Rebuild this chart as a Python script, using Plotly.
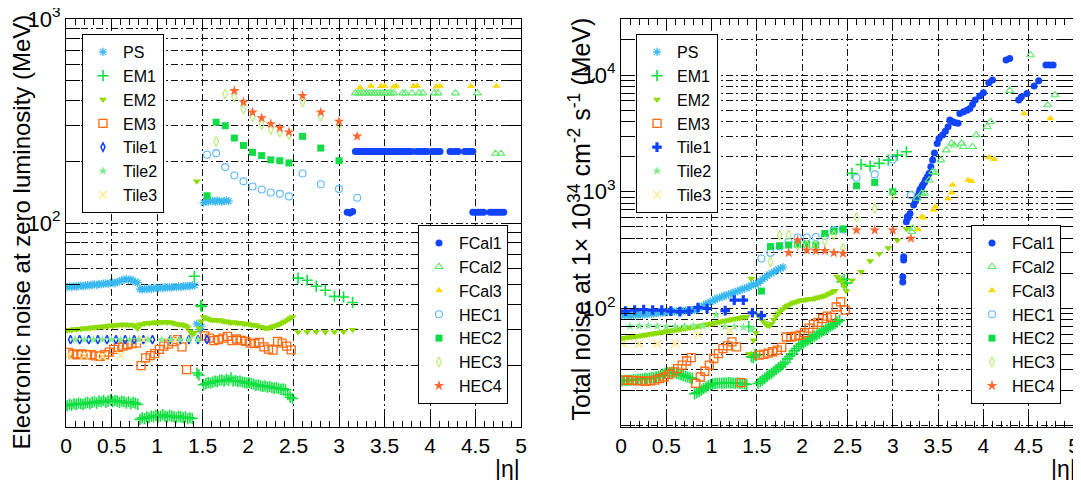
import numpy as np
import plotly.graph_objects as go

FONT = "Liberation Sans"

# ---------------- eta bin centres ----------------
eta_fine = np.round(0.0125 + 0.025 * np.arange(56), 4)      # 0.0125 .. 1.3875
eta_crack = [1.4125, 1.4375, 1.4625, 1.4875]
eta_ps_ec = np.round(1.5125 + 0.025 * np.arange(12), 4)     # 1.5125 .. 1.7875
eta_em_ec = np.round(1.5125 + 0.025 * np.arange(40), 4)     # 1.5125 .. 2.4875
eta_em3_b = np.round(0.025 + 0.05 * np.arange(27), 3)       # 0.025 .. 1.325
eta_em3_ec = np.round(1.525 + 0.05 * np.arange(20), 3)      # 1.525 .. 2.475
eta_iw = [2.55, 2.65, 2.75, 2.85, 2.95, 3.05, 3.15]
eta_em1_crack = [1.41, 1.44, 1.46, 1.48, 1.49]
eta_tile1 = [0.05, 0.15, 0.25, 0.35, 0.45, 0.55, 0.65, 0.75, 0.85, 0.95, 1.15, 1.25, 1.35, 1.45, 1.55]
eta_tile2 = [0.1, 0.2, 0.3, 0.4, 0.5, 0.6, 0.7, 0.8, 0.9, 1.05, 1.15, 1.25, 1.35, 1.45]
eta_tile3 = [0.02, 0.2, 0.4, 0.6, 0.85, 1.2]
eta_hec1 = [1.55, 1.65, 1.75, 1.85, 1.95, 2.05, 2.15, 2.25, 2.35, 2.45, 2.6, 2.8, 3.0, 3.2]
eta_hec2 = [1.55, 1.65, 1.75, 1.85, 1.95, 2.05, 2.15, 2.25, 2.35, 2.45, 2.6, 2.8, 3.0]
eta_hec3 = [1.65, 1.75, 1.85, 1.95, 2.05, 2.15, 2.25, 2.35, 2.45, 2.6, 2.8, 3.0]
eta_hec4 = [1.85, 1.95, 2.05, 2.15, 2.25, 2.35, 2.45, 2.6, 2.8, 3.0, 3.2]

# ---------------- LEFT: electronic noise at zero luminosity (MeV) ----------------
ps_b_L = [48.5, 48.8, 48.6, 49.0, 48.7, 49.1, 49.3, 49.0, 49.4, 49.6,
          49.3, 49.8, 50.0, 49.7, 50.2, 50.0, 50.4, 50.6, 50.3, 50.8,
          51.0, 50.7, 51.3, 51.8, 52.3, 52.8, 53.2, 52.6, 52.9, 52.0,
          51.5, 51.0,
          47.4, 47.2, 47.6, 47.3, 47.8, 47.5, 47.9, 48.1, 47.8, 48.2,
          48.0, 48.4, 48.2, 48.5, 48.3, 48.7, 48.5, 48.9, 48.6, 49.0,
          48.8, 49.2, 49.0, 49.4]
ps_c_L = [49.5, 32.0, 30.0, 31.0]
ps_ec_L = [126, 128, 127, 129, 128, 127, 129, 128, 127, 128, 129, 128]

em1_b_L = [12.7, 12.9, 12.8, 13.0, 12.9, 13.1, 13.0, 12.9, 13.1, 13.2,
           13.0, 13.2, 13.3, 13.1, 13.4, 13.3, 13.5, 13.2, 13.4, 13.6,
           13.3, 13.5, 13.4, 13.2, 13.4, 13.3, 13.1, 13.3, 13.0, 13.2,
           13.1, 12.9,
           10.9, 11.1, 11.0, 11.2, 11.1, 11.3, 11.2, 11.4, 11.2, 11.3,
           11.5, 11.3, 11.2, 11.4, 11.3, 11.2, 11.1, 11.3, 11.2, 11.1,
           11.2, 11.0, 11.1, 11.0]
em1_c_L = [54.8, 18.4, 18.0, 39.4, 39.0]
em1_ec_L = [16.1, 16.3, 16.5, 16.4, 16.6, 16.8, 16.7, 16.9, 17.0, 16.8,
            17.1, 16.9, 17.4, 16.8, 16.9, 16.7, 16.8, 16.6, 16.5, 16.4,
            16.5, 16.3, 16.2, 16.0, 16.1, 15.9, 15.8, 15.9, 15.7, 15.8,
            15.6, 15.5, 15.6, 15.4, 15.3, 15.4, 15.2, 14.4, 14.0, 13.8]
em1_iw_L = [53.7, 52.4, 49.0, 46.8, 43.7, 43.4, 40.8]

em2_b_L = [29.8, 30.0, 29.9, 30.2, 30.1, 30.3, 30.2, 30.5, 30.4, 30.6,
           30.5, 30.8, 30.7, 31.0, 30.9, 31.2, 31.0, 31.3, 31.2, 31.5,
           31.3, 31.6, 31.5, 31.8, 31.6, 31.9, 31.7, 31.6, 31.8, 31.5,
           31.2, 30.4,
           31.8, 32.0, 32.2, 32.4, 32.3, 32.5, 32.4, 32.6, 32.5, 32.7,
           32.6, 32.8, 32.5, 32.7, 32.4, 32.2, 32.0, 31.8, 31.9, 31.6,
           31.4, 30.8, 29.5, 28.4]
em2_c_L = [29.0, 160, 30.5, 33.0]
em2_ec_L = [34.6, 34.2, 33.8, 33.6, 33.4, 33.6, 33.3, 33.5, 33.1, 32.9,
            33.0, 32.6, 32.4, 32.7, 32.5, 32.3, 32.4, 32.2, 32.0, 32.2,
            31.9, 31.7, 31.5, 31.6, 31.2, 31.0, 30.8, 30.6, 30.5, 30.7,
            31.0, 31.3, 31.5, 31.8, 32.2, 32.6, 33.0, 33.6, 34.1, 34.6]
em2_iw_L = [29.2, 29.2, 29.3, 29.2, 29.2, 29.3, 30.0]

em3_b_L = [23.2, 22.8, 22.6, 22.8, 22.6, 22.6, 22.3, 22.2, 22.6, 23.3,
           24.0, 24.6, 24.9, 25.3, 25.6, 25.8, 20.0, 21.8, 22.4, 22.9,
           24.0, 24.9, 25.5, 26.2, 26.8, 24.7, 19.1]
em3_ec_L = [28.0, 27.3, 26.5, 26.8, 27.3, 27.8, 26.5, 27.0, 26.6, 26.3,
            25.8, 25.6, 26.0, 24.7, 24.1, 23.8, 26.3, 25.8, 24.9, 23.9]

tile1_L = [26.8, 26.8, 26.8, 26.8, 26.8, 26.8, 26.8, 26.8, 26.8, 26.8, 26.8, 26.8, 26.8, 26.8, 26.8]
tile2_L = [26.8, 26.8, 26.8, 26.8, 26.8, 26.8, 26.8, 26.8, 26.8, 26.8, 26.8, 26.8, 26.8, 26.8]
tile3_L = [22.4, 22.4, 22.2, 22.4, 26.8, 26.8]

fcal1_eta_L = [3.09, 3.12, 3.15,
               3.18, 3.20, 3.22, 3.24, 3.26, 3.28, 3.30, 3.32, 3.34, 3.36, 3.38, 3.40,
               3.42, 3.44, 3.46, 3.48, 3.50, 3.52, 3.54, 3.56, 3.58, 3.60, 3.62, 3.64,
               3.66, 3.68, 3.70, 3.72, 3.74, 3.76, 3.78, 3.80,
               3.85, 3.88, 3.91, 3.94, 3.97, 4.02, 4.05, 4.08, 4.11,
               4.22, 4.25, 4.28, 4.31, 4.38, 4.41, 4.44, 4.47,
               4.47, 4.50, 4.53, 4.56, 4.59, 4.66, 4.69, 4.72, 4.75, 4.78, 4.81]
fcal1_L = [113, 112, 114,
           224, 224, 224, 224, 224, 224, 224, 224, 224, 224, 224, 224,
           224, 224, 224, 224, 224, 224, 224, 224, 224, 224, 224, 224,
           224, 224, 224, 224, 224, 224, 224, 224,
           224, 224, 224, 224, 224, 224, 224, 224, 224,
           224, 224, 224, 224, 224, 224, 224, 224,
           113, 113, 113, 113, 113, 113, 113, 113, 113, 113, 113]
fcal2_eta_L = [3.18, 3.21, 3.24, 3.27, 3.30, 3.33, 3.36, 3.39, 3.42, 3.45, 3.48, 3.51,
               3.54, 3.57, 3.60, 3.70, 3.73, 3.80, 3.88, 3.92, 4.05, 4.09, 4.28, 4.52,
               4.72, 4.78]
fcal2_L = [433, 433, 433, 433, 433, 433, 433, 433, 433, 433, 433, 433,
           433, 433, 433, 433, 433, 433, 433, 433, 433, 433, 433, 433,
           219, 219]
fcal3_eta_L = [3.23, 3.35, 3.46, 3.50, 3.60, 3.63, 3.82, 3.86, 4.07, 4.11, 4.45, 4.73]
fcal3_L = [462, 470, 468, 470, 466, 470, 468, 470, 466, 470, 468, 470]

hec1_L = [216, 220, 188, 171, 160, 151, 146, 141, 139, 135, 175, 155, 147, 133]
hec2_L = [136, 312, 300, 261, 240, 222, 214, 204, 202, 197, 266, 233, 202]
hec3_L = [251, 429, 415, 362, 331, 304, 287, 279, 271, 391, 334, 304]
hec4_L = [445, 391, 349, 327, 306, 292, 279, 421, 349, 315, 266]

# ---------------- RIGHT: total noise at 1e34 (MeV) ----------------
ps_b_R = [87, 87.3, 87.6, 87.4, 88, 88.3, 88.1, 88.7, 89, 88.8,
          89.4, 89.8, 90.3, 90.1, 90.8, 91.3, 91.9, 92.3, 92.0, 92.8,
          93.3, 93.8, 94.2, 94.0, 94.6, 95.0, 95.5, 95.3, 95.9, 96.4,
          96.2, 96.8,
          97.5, 99, 101, 103.5, 106, 108.5, 111, 114, 117, 119.5,
          122, 124, 126, 128, 130, 132, 134, 136, 138.5, 141,
          143.5, 146, 148.5, 151]
ps_c_R = [153, 158, 162, 160]
ps_ec_R = [165, 172, 178, 184, 190, 196, 201, 206, 211, 216, 221, 226]

em1_b_R = [24.0, 24.2, 24.1, 24.4, 24.3, 24.6, 24.5, 24.8, 24.7, 25.0,
           25.2, 25.0, 25.4, 25.7, 25.5, 26.0, 26.4, 26.8, 27.3, 27.8,
           28.3, 28.0, 28.5, 28.2, 27.8, 27.4, 27.0, 26.6, 26.2, 25.8,
           25.5, 25.2,
           18.6, 19.0, 19.5, 20.0, 20.6, 21.2, 21.8, 22.3, 22.6, 22.8,
           22.9, 23.0, 22.9, 23.1, 23.0, 23.2, 23.1, 23.0, 22.9, 23.1,
           22.8, 22.9, 22.6, 22.4]
em1_c_R = [70, 38.5, 38.0, 40.5, 39.5]
em1_ec_R = [22.8, 23.6, 24.4, 25.3, 26.2, 27.1, 28.0, 29.0, 30.0, 31.0,
            32.1, 33.3, 34.5, 37, 39, 41, 43.5, 45.5, 47.5, 49.5,
            50.5, 52, 53.5, 55, 56.5, 58, 59.5, 61.2, 63, 64.8,
            66.6, 68.5, 70.5, 72.5, 74.6, 76.8, 79.4, 170, 178, 165]
em1_iw_R = [1437, 1714, 1660, 1750, 1866, 2060, 2200]

em2_b_R = [55.5, 56.1, 56.2, 56.9, 57.0, 57.6, 57.7, 58.4, 58.5, 59.1,
           59.3, 60.0, 60.2, 60.9, 61.1, 61.7, 61.9, 62.6, 62.9, 63.5,
           63.8, 64.5, 64.8, 65.4, 65.7, 66.4, 66.7, 67.3, 67.6, 68.3,
           68.5, 69.1,
           69.6, 70.4, 70.8, 71.6, 72.0, 72.9, 73.4, 74.2, 74.7, 75.6,
           76.1, 77.0, 77.5, 78.4, 78.9, 79.8, 80.3, 81.2, 81.7, 82.6,
           83.1, 84.0, 84.2, 84.8]
em2_c_R = [41, 181, 53.6, 62]
em2_ec_R = [88, 84, 79, 75, 72, 71, 74, 80, 86, 91,
            95, 99, 103, 106, 108, 111, 113, 114, 116, 118,
            118, 119, 120, 121, 121, 122, 124, 125, 127, 128,
            130, 133, 136, 139, 142, 187, 178, 169, 155, 141]
em2_iw_R = [175, 206, 255, 295, 330, 385, 480]

em3_b_R = [24.3, 24.3, 24.2, 24.0, 24.0, 23.8, 24.0, 24.4, 25.1, 25.9,
           27.2, 28.7, 30.6, 32.8, 35.5, 38.0, 22.8, 25.9, 29.0, 32.7,
           37.3, 41.1, 45.4, 47.9, 51.8, 46.9, 23.2]
em3_ec_R = [39.8, 40.4, 41.4, 42.6, 44.0, 46.5, 57.0, 57.0, 58.0, 59.0,
            62.0, 68.0, 73.0, 76.0, 82.0, 86.0, 84.0, 103, 114, 97]

tile1_R = [95, 97, 98, 97, 97, 95, 94, 95, 102, 100, 96, 118, 118, 92, 87]
tile2_R = [70.5, 70.8, 71.2, 70.5, 70.0, 70.2, 70.6, 71.0, 70.5, 88, 70, 70, 69, 66]
tile3_R = [50, 50, 50, 50, 60, 65]

fcal1_eta_R = [3.11, 3.11, 3.12, 3.12, 3.15, 3.16, 3.17, 3.19, 3.23, 3.25, 3.27, 3.29,
               3.30, 3.32, 3.33, 3.35, 3.36, 3.38, 3.40, 3.42, 3.44, 3.46, 3.49, 3.51,
               3.55, 3.58, 3.61, 3.63, 3.66, 3.69, 3.72, 3.74, 3.78, 3.82, 3.85, 3.88,
               3.91, 3.96, 4.00, 4.06, 4.10, 4.25, 4.29, 4.39, 4.42, 4.48, 4.56, 4.61,
               4.69, 4.73, 4.77]
fcal1_R = [187, 169, 260, 277, 553, 611, 600, 650, 769, 830, 906, 980,
           1047, 1100, 1141, 1200, 1259, 1340, 1437, 1637, 1868, 2150, 2596, 2866,
           3060, 3300, 3608, 4115, 3981, 3900, 3855, 4694, 4852, 5000, 5180, 5600,
           6107, 6600, 7063, 8590, 9060, 13440, 13890, 6107, 6520, 6960, 8050, 8940,
           12180, 12180, 12180]
fcal2_eta_R = [3.21, 3.22, 3.27, 3.32, 3.35, 3.40, 3.44, 3.47, 3.53, 3.59, 3.65, 3.68,
               3.76, 3.78, 3.88, 3.92, 4.04, 4.08, 4.29, 4.52, 4.71, 4.79]
fcal2_R = [454, 485, 877, 968, 968, 1259, 1484, 1455, 1868, 2276, 2596, 2500,
           2596, 2432, 2432, 3060, 3608, 3981, 7350, 14840, 5530, 6740]
fcal3_eta_R = [3.28, 3.32, 3.34, 3.45, 3.47, 3.61, 3.65, 3.66, 3.83, 3.87, 4.06, 4.12, 4.45, 4.74]
fcal3_R = [475, 611, 600, 697, 744, 877, 980, 1141, 1259, 1230, 1968, 1900, 4694, 4252]

hec1_R = [268, 300, 340, 373, 406, 406, 410, 420, 469, 475, 1318, 1409, 1892, 936]
hec2_R = [141, 340, 345, 350, 355, 355, 350, 439, 460, 480, 1125, 1202, 1000]
hec3_R = [251, 425, 425, 349, 349, 345, 380, 425, 327, 603, 720, 936]
hec4_R = [300, 385, 316, 312, 312, 300, 296, 469, 469, 469, 398]

# ---------------- styles ----------------
STY = {
    "PS":    dict(color="#38b8f0", symbol="asterisk-open", size=7, lw=1.2),
    "EM1":   dict(color="#10e040", symbol="cross-thin-open", size=8, lw=1.6),
    "EM2":   dict(color="#8cdc00", symbol="triangle-down", size=7, lw=0),
    "EM3":   dict(color="#ff6a10", symbol="square-open", size=8, lw=1.3),
    "Tile1L": dict(color="#1040ff", symbol="diamond-tall-open", size=6, lw=1.5),
    "Tile1R": dict(color="#1040ff", symbol="cross", size=8, lw=0),
    "Tile2": dict(color="#80ee90", symbol="star", size=7, lw=0),
    "Tile3": dict(color="#ffe890", symbol="x-thin-open", size=8, lw=1.5),
    "FCal1": dict(color="#1044ff", symbol="circle", size=7, lw=0),
    "FCal2": dict(color="#5ee86a", symbol="triangle-up-open", size=7, lw=1.1),
    "FCal3": dict(color="#ffd800", symbol="triangle-up", size=7, lw=0),
    "HEC1":  dict(color="#60b8ff", symbol="circle-open", size=7, lw=1.1),
    "HEC2":  dict(color="#10dc48", symbol="square", size=7, lw=0),
    "HEC3":  dict(color="#b8ec70", symbol="diamond-tall-open", size=7, lw=1.1),
    "HEC4":  dict(color="#ff6830", symbol="star", size=8, lw=0),
}

fig = go.Figure()


def add(x, y, name, sty, panel, legend):
    s = STY[sty]
    fig.add_trace(go.Scatter(
        x=list(x), y=list(y), mode="markers", name=name,
        marker=dict(symbol=s["symbol"], size=s["size"], color=s["color"],
                    line=dict(width=s["lw"], color=s["color"])),
        xaxis="x" if panel == 0 else "x2", yaxis="y" if panel == 0 else "y2",
        legend=legend, legendgroup=name + legend, showlegend=True,
        hoverinfo="skip"))


def cat(*a):
    out = []
    for v in a:
        out += list(v)
    return out


panels = [
    dict(ps=(ps_b_L, ps_c_L, ps_ec_L), em1=(em1_b_L, em1_c_L, em1_ec_L, em1_iw_L),
         em2=(em2_b_L, em2_c_L, em2_ec_L, em2_iw_L), em3=(em3_b_L, em3_ec_L),
         t1=tile1_L, t2=tile2_L, t3=tile3_L,
         f1=(fcal1_eta_L, fcal1_L), f2=(fcal2_eta_L, fcal2_L), f3=(fcal3_eta_L, fcal3_L),
         h1=hec1_L, h2=hec2_L, h3=hec3_L, h4=hec4_L, leg=("legend", "legend2"), t1s="Tile1L"),
    dict(ps=(ps_b_R, ps_c_R, ps_ec_R), em1=(em1_b_R, em1_c_R, em1_ec_R, em1_iw_R),
         em2=(em2_b_R, em2_c_R, em2_ec_R, em2_iw_R), em3=(em3_b_R, em3_ec_R),
         t1=tile1_R, t2=tile2_R, t3=tile3_R,
         f1=(fcal1_eta_R, fcal1_R), f2=(fcal2_eta_R, fcal2_R), f3=(fcal3_eta_R, fcal3_R),
         h1=hec1_R, h2=hec2_R, h3=hec3_R, h4=hec4_R, leg=("legend3", "legend4"), t1s="Tile1R"),
]

for i, p in enumerate(panels):
    la, lb = p["leg"]
    add(cat(eta_fine, eta_crack, eta_ps_ec), cat(*p["ps"]), "PS", "PS", i, la)
    add(cat(eta_fine, eta_em1_crack, eta_em_ec, eta_iw), cat(*p["em1"]), "EM1", "EM1", i, la)
    add(cat(eta_fine, eta_crack, eta_em_ec, eta_iw), cat(*p["em2"]), "EM2", "EM2", i, la)
    add(cat(eta_em3_b, eta_em3_ec), cat(*p["em3"]), "EM3", "EM3", i, la)
    add(eta_tile1, p["t1"], "Tile1", p["t1s"], i, la)
    add(eta_tile2, p["t2"], "Tile2", "Tile2", i, la)
    add(eta_tile3, p["t3"], "Tile3", "Tile3", i, la)
    add(p["f1"][0], p["f1"][1], "FCal1", "FCal1", i, lb)
    add(p["f2"][0], p["f2"][1], "FCal2", "FCal2", i, lb)
    add(p["f3"][0], p["f3"][1], "FCal3", "FCal3", i, lb)
    add(eta_hec1, p["h1"], "HEC1", "HEC1", i, lb)
    add(eta_hec2, p["h2"], "HEC2", "HEC2", i, lb)
    add(eta_hec3, p["h3"], "HEC3", "HEC3", i, lb)
    add(eta_hec4, p["h4"], "HEC4", "HEC4", i, lb)

W, H = 1081, 480
OFF = 8  # the page body adds an 8px margin; positions below are screen pixels


def px(sx):
    return (sx - OFF) / W


def py(sy):
    return 1 - (sy - OFF) / H


GRID = dict(showgrid=True, gridcolor="#111111", gridwidth=0.8, griddash="7px,3px,2px,3px")


def xax(x0, x1, anchor):
    return dict(domain=[px(x0), px(x1)], range=[0, 5], tick0=0, dtick=0.5,
                ticks="inside", ticklen=11, tickcolor="black", tickwidth=1,
                showline=True, linecolor="black", linewidth=1.2, mirror="allticks",
                zeroline=False, automargin=False, anchor=anchor, ticklabeloverflow="allow",
                tickfont=dict(size=21, family=FONT, color="black"),
                minor=dict(dtick=0.1, ticks="inside", ticklen=6, tickcolor="black", showgrid=False),
                **GRID)


def logticks(hi):
    vals, txt = [], []
    dec = 10
    while dec <= hi:
        for m in range(1, 10):
            v = m * dec
            if v > hi:
                break
            vals.append(v)
            txt.append("10<sup>%d</sup>" % int(round(np.log10(v))) if m == 1 and v >= 100 else "")
        dec *= 10
    return vals, txt


def yax(rng, hi, anchor):
    vals, txt = logticks(hi)
    return dict(domain=[py(427), py(19)], type="log", range=rng,
                tickvals=vals, ticktext=txt, ticks="inside", ticklen=14, tickcolor="black",
                showline=True, linecolor="black", linewidth=1.2, mirror="allticks",
                automargin=False, anchor=anchor, ticklabeloverflow="allow",
                tickfont=dict(size=22, family=FONT, color="black"), **GRID)


LEG = dict(xanchor="left", yanchor="top", bgcolor="white", bordercolor="black", borderwidth=1,
           font=dict(size=16, family=FONT, color="black"), tracegroupgap=0, itemwidth=30)

fig.update_layout(
    width=W, height=H, margin=dict(l=0, r=0, t=0, b=0, autoexpand=False),
    paper_bgcolor="white", plot_bgcolor="white",
    font=dict(family=FONT, color="black"),
    xaxis=xax(66, 521, "y"), yaxis=yax([1, 3.0001], 1000, "x"),
    xaxis2=xax(621, 1074, "y2"), yaxis2=yax([0.985, 4.48], 30000, "x2"),
    legend=dict(x=px(82), y=py(34), **LEG),
    legend2=dict(x=px(418), y=py(225), **LEG),
    legend3=dict(x=px(636), y=py(34), **LEG),
    legend4=dict(x=px(971), y=py(225), **LEG),
)

ann = [
    dict(text="Electronic noise at zero luminosity (MeV)", x=px(21), y=py(13),
         xanchor="center", yanchor="top", textangle=-90, font=dict(size=24)),
    dict(text="Total noise at 1\u00d7 10<sup>34</sup> cm<sup>-2</sup> s<sup>-1</sup> (MeV)",
         x=px(579), y=py(16), xanchor="center", yanchor="top", textangle=-90,
         font=dict(size=25)),
    dict(text="|\u03b7|", x=px(522), y=py(469), xanchor="right", yanchor="middle",
         font=dict(size=23)),
    dict(text="|\u03b7|", x=px(1078), y=py(469), xanchor="right", yanchor="middle",
         font=dict(size=23)),
]
for a in ann:
    a.update(xref="paper", yref="paper", showarrow=False)
    a["font"].update(family=FONT, color="black")
fig.update_layout(annotations=ann)

fig.write_html("out.html")
